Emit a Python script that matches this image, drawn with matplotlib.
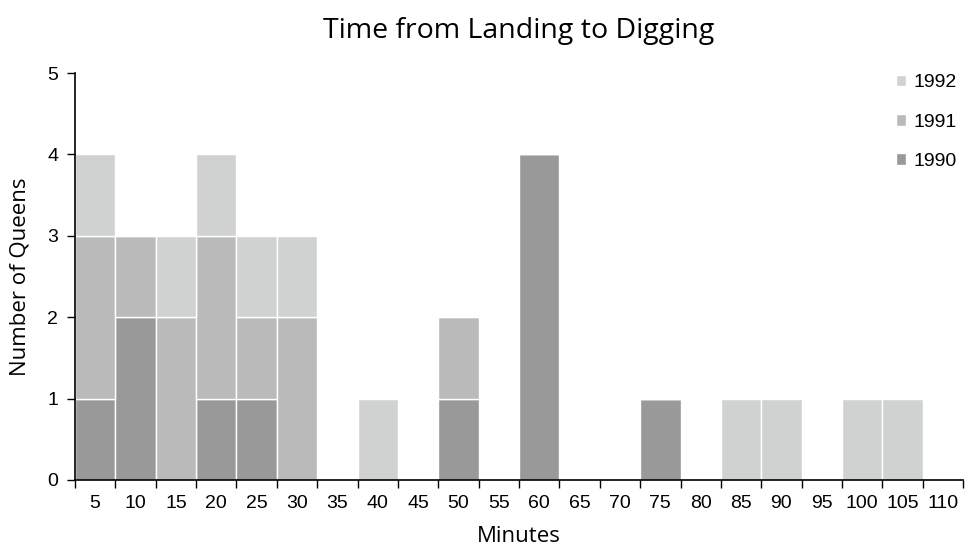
import numpy as np
import matplotlib.pyplot as plt

minutes = [5, 10, 15, 20, 25, 30, 35, 40, 45, 50, 55, 60, 65, 70, 75, 80, 85, 90, 95, 100, 105, 110]
q1990 = [1, 2, 0, 1, 1, 0, 0, 0, 0, 1, 0, 4, 0, 0, 1, 0, 0, 0, 0, 0, 0, 0]
q1991 = [2, 1, 2, 2, 1, 2, 0, 0, 0, 1, 0, 0, 0, 0, 0, 0, 0, 0, 0, 0, 0, 0]
q1992 = [1, 0, 1, 1, 1, 1, 0, 1, 0, 0, 0, 0, 0, 0, 0, 0, 1, 1, 0, 1, 1, 0]

c90, c91, c92 = '#999999', '#bababa', '#d0d2d2'

fig = plt.figure(figsize=(9.66, 5.49), dpi=100)
ax = fig.add_axes([0.0776, 0.1257, 0.9194, 0.7413])

x = np.arange(len(minutes))
a = np.array(q1990)
b = np.array(q1991)
c = np.array(q1992)
ax.bar(x, a, width=1, color=c90, edgecolor='white', linewidth=1, label='1990')
ax.bar(x, b, width=1, bottom=a, color=c91, edgecolor='white', linewidth=1, label='1991')
ax.bar(x, c, width=1, bottom=a + b, color=c92, edgecolor='white', linewidth=1, label='1992')

ax.set_xlim(-0.5, len(minutes) - 0.5)
ax.set_ylim(0, 5)
ax.set_xticks(x)
ax.set_xticklabels([str(m) for m in minutes], family='Liberation Sans', fontsize=14)
ax.set_xticks(np.arange(len(minutes) + 1) - 0.5, minor=True)
ax.tick_params(axis='x', which='major', length=0, pad=11)
ax.tick_params(axis='x', which='minor', length=6, width=1, direction='out')
ax.set_yticks(range(6))
ax.set_yticklabels([str(i) for i in range(6)], family='Liberation Sans', fontsize=14)
ax.tick_params(axis='y', length=6, width=1, direction='out', pad=6)

for s in ['top', 'right']:
    ax.spines[s].set_visible(False)
for s in ['left', 'bottom']:
    ax.spines[s].set_linewidth(1.2)

ax.set_title('Time from Landing to Digging', family='Open Sans', fontsize=20.5, pad=25)
ax.set_xlabel('Minutes', family='Open Sans', fontsize=16, labelpad=10)
ax.set_ylabel('Number of Queens', family='Open Sans', fontsize=16, labelpad=12)

h, l = ax.get_legend_handles_labels()
ax.legend(h[::-1], l[::-1], loc='upper right', bbox_to_anchor=(1.012, 1.04), frameon=False,
          prop={'family': 'Liberation Sans', 'size': 14}, handlelength=0.55, handleheight=0.55,
          handletextpad=0.35, labelspacing=1.15)

fig.savefig('out.png', dpi=100)
